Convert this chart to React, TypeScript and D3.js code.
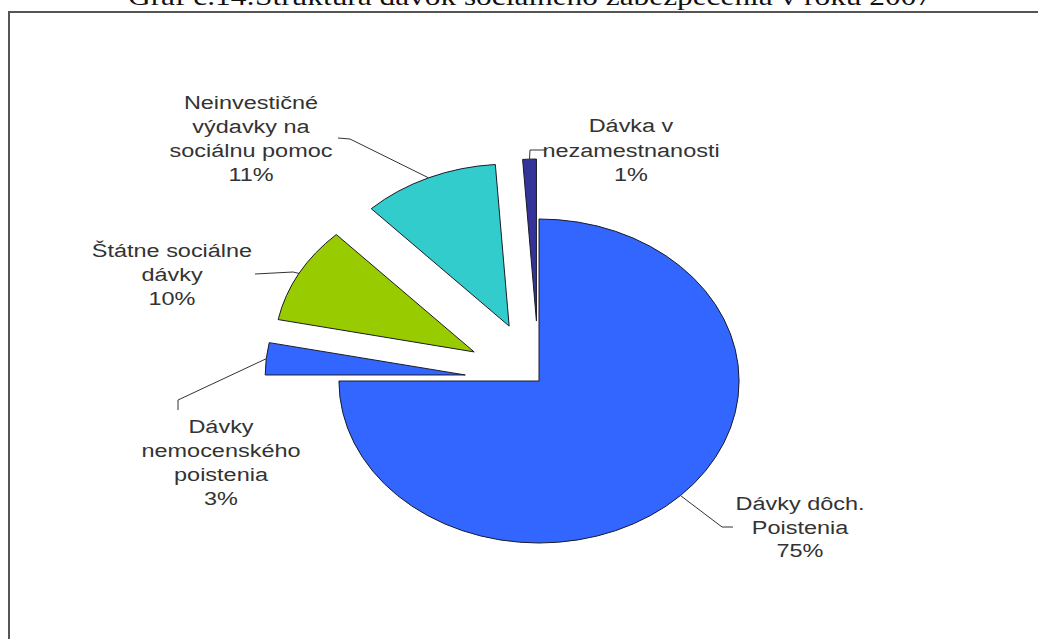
import React from "react";
import * as d3 from "d3";

// ---- data ----
const categories: string[][] = [
  ["Dávky dôch.", "Poistenia"],
  ["Dávky", "nemocenského", "poistenia"],
  ["Štátne sociálne", "dávky"],
  ["Neinvestičné", "výdavky na", "sociálnu pomoc"],
  ["Dávka v", "nezamestnanosti"],
];
const shares: number[] = [75.0, 3.2, 9.7, 11.0, 1.1];
const title = "Graf č.14:Štruktúra dávok sociálneho zabezpečenia v roku 2007";

// ---- style / layout ----
const colors = ["#3366FF", "#3366FF", "#99CC00", "#33CCCC", "#333399"];
const explode = [0, 60, 60, 60, 60];
const W = 1038;
const H = 639;
const CX = 539;
const CY = 381;
const R = 162;
const SX = 1.235; // horizontal stretch of the picture
const FONT = "'Liberation Sans', Arial, sans-serif";

// label layout: centre x, first baseline, line height, leader points after the arc point
const labelLayout = [
  { x: 800, y: 510, lh: 23.5, leader: [[722, 527], [733, 527]] },
  { x: 221, y: 433, lh: 24, leader: [[178, 400], [178, 410]] },
  { x: 172, y: 257, lh: 24, leader: [[293, 272], [255, 274]] },
  { x: 251, y: 109, lh: 24, leader: [[350, 139], [338, 138]] },
  { x: 631, y: 132, lh: 24.5, leader: [[530, 150], [545, 150]] },
];

export default function App() {
  const pie = d3
    .pie<number>()
    .sort(null)
    .value((d) => d)
    .startAngle(0)
    .endAngle(2 * Math.PI);
  const arcs = pie(shares);
  const arcGen = d3.arc<d3.PieArcDatum<number>>().innerRadius(0).outerRadius(R);

  const slices = arcs.map((a, i) => {
    const mid = (a.startAngle + a.endAngle) / 2;
    const ox = explode[i] * Math.sin(mid);
    const oy = -explode[i] * Math.cos(mid);
    const ax = CX + SX * (ox + R * Math.sin(mid));
    const ay = CY + (oy - R * Math.cos(mid));
    return { a, i, ox, oy, ax, ay };
  });

  return (
    <svg
      width={W}
      height={H}
      style={{ position: "absolute", left: 0, top: 0, background: "#fff" }}
    >
      <rect x={0} y={0} width={W} height={H} fill="#fff" />
      {/* title (cut off at top, as in the reference) */}
      <text
        transform={`translate(${W / 2 + 11},5) scale(${SX},1)`}
        textAnchor="middle"
        fontFamily="'Liberation Serif', 'Times New Roman', serif"
        fontSize={25}
        fill="#111"
        textLength={804 / SX}
        lengthAdjust="spacingAndGlyphs"
      >
        {title}
      </text>
      {/* chart frame */}
      <path d={`M9,${H + 5} V12 H${W + 5}`} fill="none" stroke="#555" strokeWidth={2} />

      {/* slices */}
      <g transform={`translate(${CX},${CY}) scale(${SX},1)`}>
        {slices.map(({ a, i, ox, oy }) => (
          <path
            key={i}
            d={arcGen(a) || ""}
            transform={`translate(${ox},${oy})`}
            fill={colors[i]}
            stroke="#1a1a2a"
            strokeWidth={1}
            vectorEffect="non-scaling-stroke"
            strokeLinejoin="miter"
          />
        ))}
      </g>

      {/* leader lines */}
      {slices.map(({ i, ax, ay }) => {
        const pts = [[ax, ay], ...labelLayout[i].leader];
        return (
          <polyline
            key={"l" + i}
            points={pts.map((p) => p.join(",")).join(" ")}
            fill="none"
            stroke="#333"
            strokeWidth={1}
          />
        );
      })}

      {/* labels */}
      {slices.map(({ i }) => {
        const L = labelLayout[i];
        const lines = [...categories[i], `${Math.round(shares[i])}%`];
        return (
          <g key={"t" + i}>
            {lines.map((ln, k) => (
              <text
                key={k}
                transform={`translate(${L.x},${L.y + k * L.lh}) scale(${SX},1)`}
                textAnchor="middle"
                fontFamily={FONT}
                fontSize={19}
                fill="#333"
              >
                {ln}
              </text>
            ))}
          </g>
        );
      })}
    </svg>
  );
}
